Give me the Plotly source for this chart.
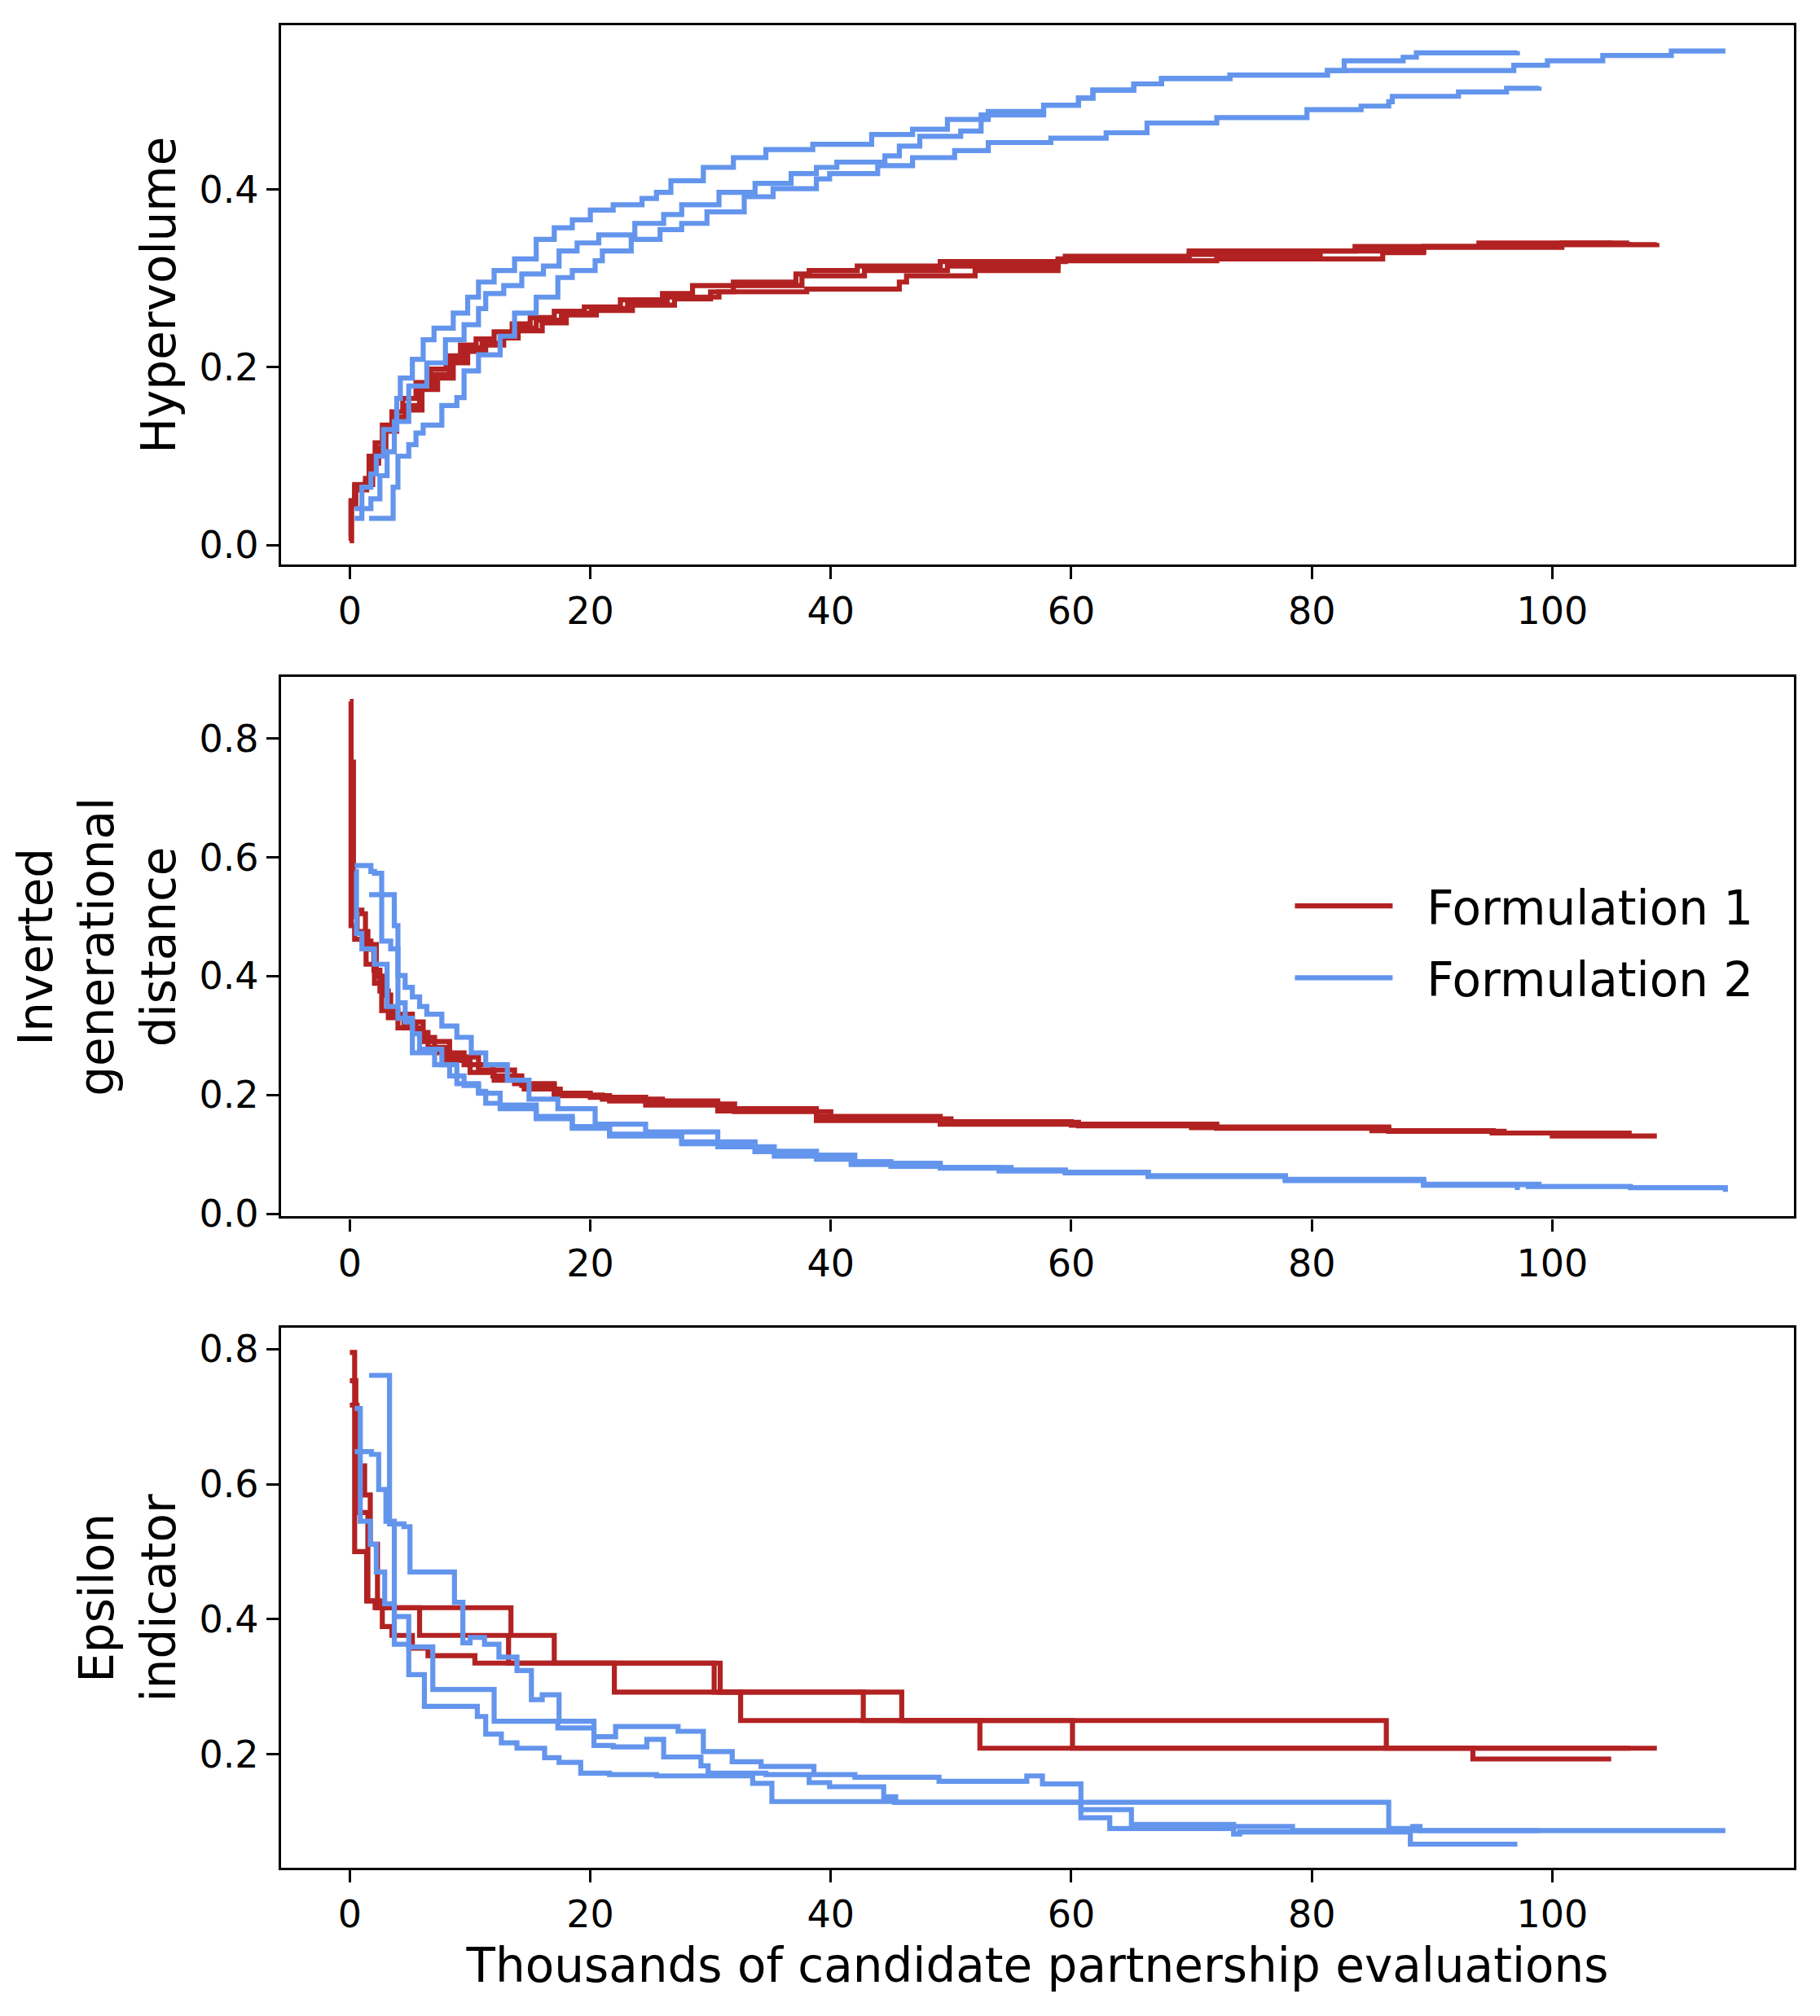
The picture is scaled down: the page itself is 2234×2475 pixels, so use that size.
import plotly.graph_objects as go

# Hypervolume, Formulation 1 (three runs), x in thousands of evaluations
hv_f1_x = [
    [0, 0.1, 0.4, 1.3, 1.75, 2.2, 2.8, 3.7, 4.6, 5.8, 7.05, 8.3, 9.5, 11.0, 12.5, 13.7, 15.5, 17.6,
     20.1, 23.1, 26.4, 30.7, 38.0, 45.7, 46.3, 52.0, 58.9, 72.1, 85.9, 89.3, 95.6, 108.7],
    [0, 0.1, 0.4, 1.3, 1.6, 2.1, 2.7, 3.5, 4.4, 5.5, 6.7, 8.0, 9.2, 10.5, 12.0, 13.5, 15.0, 17.0,
     19.5, 22.5, 26.0, 28.5, 31.9, 37.1, 38.2, 42.2, 49.1, 59.5, 69.8, 83.6, 93.9, 104.8],
    [0, 0.15, 0.5, 1.4, 1.9, 2.4, 3.0, 3.9, 4.8, 6.0, 7.3, 8.6, 9.8, 11.3, 12.8, 14.0, 16.0, 18.0,
     20.5, 23.5, 27.0, 30.0, 31.9, 37.6, 42.8, 49.7, 58.9, 69.8, 80.7, 89.3, 100.8, 106.4],
]
hv_f1_y = [
    [0.005, 0.048, 0.065, 0.070, 0.096, 0.109, 0.131, 0.144, 0.157, 0.179, 0.192, 0.209, 0.222, 0.227,
     0.235, 0.244, 0.253, 0.261, 0.266, 0.272, 0.279, 0.285, 0.288, 0.296, 0.303, 0.309, 0.320, 0.322,
     0.329, 0.336, 0.338, 0.340],
    [0.010, 0.050, 0.068, 0.075, 0.100, 0.115, 0.135, 0.150, 0.165, 0.183, 0.198, 0.213, 0.225, 0.232,
     0.240, 0.249, 0.256, 0.263, 0.268, 0.276, 0.283, 0.292, 0.296, 0.305, 0.309, 0.314, 0.319, 0.325,
     0.331, 0.336, 0.340, 0.343],
    [0.005, 0.045, 0.062, 0.068, 0.092, 0.105, 0.128, 0.140, 0.152, 0.175, 0.188, 0.205, 0.218, 0.225,
     0.233, 0.241, 0.250, 0.259, 0.264, 0.270, 0.277, 0.285, 0.292, 0.303, 0.309, 0.314, 0.322, 0.327,
     0.331, 0.335, 0.340, 0.341],
]

# Hypervolume, Formulation 2
hv_f2_x = [
    [0.4, 1.0, 1.75, 2.2, 2.8, 3.9, 4.2, 5.2, 6.1, 7.0, 8.6, 9.8, 10.7, 12.0, 13.7, 15.5, 17.0, 18.5,
     20.0, 21.9, 24.3, 25.5, 26.7, 29.4, 31.9, 34.6, 38.5, 43.4, 46.8, 49.7, 53.1, 57.7, 60.6, 61.8,
     65.2, 67.5, 73.2, 81.3, 82.7, 87.6, 88.7, 97.1],
    [0.4, 1.75, 2.5, 3.1, 3.7, 4.9, 6.4, 7.95, 9.5, 10.7, 11.3, 12.8, 14.3, 16.1, 17.4, 18.9, 20.7,
     23.7, 26.1, 27.6, 30.7, 33.7, 36.7, 38.8, 40.5, 44.5, 45.7, 47.4, 50.8, 52.5, 57.7, 60.6, 61.8,
     65.2, 67.5, 73.2, 81.3, 93.9, 96.8, 99.6, 104.2, 109.9, 114.4],
    [1.6, 3.4, 3.6, 4.0, 4.9, 5.5, 6.1, 7.65, 8.9, 9.5, 10.7, 12.5, 13.7, 15.5, 17.3, 18.5, 20.4, 21.0,
     23.4, 25.8, 27.6, 29.7, 32.8, 35.2, 38.8, 39.9, 43.9, 46.8, 50.3, 53.1, 58.3, 62.9, 66.3, 72.1,
     79.6, 84.1, 86.4, 86.7, 92.2, 96.2, 98.9],
]
hv_f2_y = [
    [0.030, 0.065, 0.080, 0.100, 0.130, 0.165, 0.188, 0.209, 0.231, 0.244, 0.261, 0.279, 0.296, 0.309,
     0.322, 0.344, 0.357, 0.366, 0.377, 0.383, 0.390, 0.397, 0.410, 0.425, 0.436, 0.445, 0.451, 0.462,
     0.468, 0.479, 0.488, 0.495, 0.503, 0.512, 0.519, 0.525, 0.529, 0.534, 0.545, 0.549, 0.554, 0.556],
    [0.041, 0.052, 0.078, 0.105, 0.139, 0.179, 0.205, 0.231, 0.248, 0.266, 0.283, 0.292, 0.305, 0.314,
     0.331, 0.340, 0.349, 0.362, 0.372, 0.383, 0.397, 0.407, 0.418, 0.425, 0.431, 0.438, 0.449, 0.460,
     0.466, 0.484, 0.495, 0.503, 0.512, 0.519, 0.525, 0.529, 0.534, 0.534, 0.540, 0.545, 0.551, 0.556,
     0.556],
    [0.030, 0.030, 0.065, 0.100, 0.113, 0.126, 0.135, 0.157, 0.166, 0.196, 0.214, 0.235, 0.261, 0.279,
     0.301, 0.309, 0.320, 0.331, 0.344, 0.355, 0.362, 0.375, 0.392, 0.401, 0.412, 0.418, 0.427, 0.436,
     0.444, 0.453, 0.458, 0.464, 0.475, 0.481, 0.490, 0.494, 0.499, 0.505, 0.510, 0.514, 0.516],
]

# Inverted generational distance, Formulation 1
igd_f1_x = [
    [0, 0.1, 0.4, 1.3, 1.35, 2.05, 2.65, 4.0, 5.8, 7.05, 9.5, 11.9, 14.3, 17.0, 20.0, 24.6, 30.6,
     38.8, 49.1, 60.6, 72.1, 86.4, 95.1, 100.0, 108.7],
    [0, 0.24, 1.0, 1.3, 1.75, 2.2, 2.8, 3.4, 5.2, 6.1, 8.3, 10.7, 13.7, 17.0, 21.6, 24.6, 30.6, 38.8,
     49.1, 60.6, 72.1, 86.4, 96.0, 104.9],
    [0, 0.3, 0.6, 1.5, 2.0, 2.5, 3.2, 4.5, 5.5, 6.5, 8.0, 10.0, 12.0, 14.5, 17.5, 21.0, 26.0, 32.0,
     40.0, 50.0, 60.0, 70.0, 85.0, 95.0, 106.4],
]
igd_f1_y = [
    [0.862, 0.485, 0.462, 0.456, 0.420, 0.388, 0.342, 0.313, 0.297, 0.271, 0.251, 0.232, 0.216, 0.203,
     0.196, 0.190, 0.177, 0.164, 0.154, 0.151, 0.146, 0.140, 0.136, 0.131, 0.131],
    [0.654, 0.511, 0.505, 0.459, 0.453, 0.400, 0.368, 0.336, 0.323, 0.290, 0.264, 0.242, 0.219, 0.199,
     0.190, 0.183, 0.173, 0.157, 0.151, 0.148, 0.144, 0.139, 0.136, 0.136],
    [0.760, 0.500, 0.475, 0.445, 0.410, 0.375, 0.330, 0.318, 0.305, 0.280, 0.258, 0.238, 0.225, 0.210,
     0.200, 0.193, 0.185, 0.172, 0.160, 0.155, 0.149, 0.145, 0.140, 0.136, 0.134],
]

# Inverted generational distance, Formulation 2
igd_f2_x = [
    [0.4, 1.75, 2.05, 2.65, 3.4, 4.0, 4.6, 5.2, 5.8, 6.4, 7.65, 8.9, 10.1, 11.3, 13.1, 14.9, 17.3, 20.4,
     24.6, 30.6, 35.3, 41.7, 49.1, 55.0, 59.5, 66.4, 77.8, 89.3, 97.1],
    [0.4, 0.55, 1.0, 1.9, 2.05, 3.1, 4.0, 5.2, 5.8, 7.65, 8.9, 10.7, 11.3, 12.5, 15.5, 18.5, 21.6,
     27.6, 33.7, 38.8, 41.7, 45.0, 49.1, 54.0, 59.5, 66.4, 77.8, 89.3, 98.0, 106.5, 114.4],
    [1.6, 3.4, 3.7, 4.0, 4.6, 5.2, 7.05, 8.3, 9.5, 10.7, 12.5, 15.5, 18.5, 21.6, 27.6, 33.7, 38.8,
     42.0, 45.0, 49.1, 54.0, 59.5, 66.4, 77.8, 89.3, 98.9],
]
igd_f2_y = [
    [0.586, 0.576, 0.573, 0.459, 0.446, 0.401, 0.381, 0.365, 0.349, 0.336, 0.316, 0.297, 0.271, 0.251,
     0.225, 0.193, 0.177, 0.151, 0.138, 0.113, 0.097, 0.085, 0.078, 0.073, 0.070, 0.064, 0.057, 0.048,
     0.040],
    [0.576, 0.472, 0.446, 0.446, 0.420, 0.349, 0.329, 0.303, 0.277, 0.251, 0.219, 0.206, 0.186, 0.177,
     0.164, 0.147, 0.134, 0.121, 0.105, 0.092, 0.083, 0.080, 0.077, 0.072, 0.069, 0.063, 0.056, 0.049,
     0.046, 0.044, 0.037],
    [0.537, 0.537, 0.485, 0.355, 0.323, 0.271, 0.251, 0.232, 0.216, 0.203, 0.183, 0.160, 0.144, 0.131,
     0.118, 0.105, 0.099, 0.088, 0.083, 0.078, 0.074, 0.070, 0.064, 0.058, 0.050, 0.047],
]

# Epsilon indicator, Formulation 1
eps_f1_x = [
    [0, 0.4, 1.4, 2.1, 13.4, 17.0, 30.8, 45.9, 86.2, 108.7],
    [0, 0.5, 1.23, 1.7, 2.3, 5.8, 13.2, 22.0, 32.5, 52.4, 93.4, 104.9],
    [0, 0.6, 1.5, 2.7, 3.5, 5.2, 6.5, 10.4, 30.3, 42.7, 60.1, 106.5],
]
eps_f1_y = [
    [0.795, 0.500, 0.427, 0.417, 0.376, 0.335, 0.292, 0.250, 0.209, 0.209],
    [0.753, 0.627, 0.584, 0.511, 0.417, 0.376, 0.335, 0.292, 0.250, 0.209, 0.193, 0.193],
    [0.717, 0.558, 0.427, 0.389, 0.376, 0.357, 0.346, 0.335, 0.292, 0.250, 0.209, 0.209],
]

# Epsilon indicator, Formulation 2
eps_f2_x = [
    [0.4, 1.8, 2.4, 3.0, 3.7, 4.9, 6.9, 12.0, 17.3, 20.3, 21.9, 24.7, 26.1, 29.2, 29.8, 34.6, 38.2,
     39.9, 44.4, 45.4, 60.8, 63.2, 73.5, 74.0, 88.2, 97.1],
    [0.4, 0.87, 1.7, 2.2, 2.9, 3.7, 4.9, 6.2, 10.6, 11.3, 12.6, 13.9, 16.2, 17.4, 19.2, 21.6, 25.5,
     33.5, 35.1, 45.3, 86.4, 88.4, 89.0, 114.4],
    [1.6, 3.3, 4.5, 5.0, 8.7, 9.4, 10.0, 11.2, 12.4, 13.9, 15.1, 16.0, 17.4, 20.3, 22.1, 27.3, 29.4,
     31.8, 34.2, 38.6, 42.0, 49.0, 56.3, 57.6, 60.8, 65.0, 73.5, 78.4, 98.9],
]
eps_f2_y = [
    [0.648, 0.644, 0.592, 0.545, 0.404, 0.359, 0.296, 0.249, 0.239, 0.213, 0.211, 0.222, 0.196, 0.183,
     0.172, 0.170, 0.158, 0.152, 0.137, 0.129, 0.106, 0.090, 0.082, 0.085, 0.067, 0.067],
    [0.712, 0.545, 0.511, 0.470, 0.423, 0.363, 0.318, 0.271, 0.256, 0.230, 0.217, 0.209, 0.195, 0.188,
     0.172, 0.170, 0.168, 0.157, 0.130, 0.129, 0.090, 0.093, 0.087, 0.087],
    [0.761, 0.541, 0.537, 0.470, 0.425, 0.365, 0.373, 0.363, 0.344, 0.324, 0.281, 0.288, 0.249, 0.226,
     0.241, 0.234, 0.204, 0.189, 0.182, 0.170, 0.166, 0.160, 0.168, 0.156, 0.118, 0.096, 0.093, 0.087,
     0.087],
]

series_names = ["Formulation 1", "Formulation 2"]
colors = ["#B22222", "#6495ED"]

panels = [
    ("y", "Hypervolume", [(hv_f1_x, hv_f1_y), (hv_f2_x, hv_f2_y)]),
    ("y2", "Inverted<br>generational<br>distance", [(igd_f1_x, igd_f1_y), (igd_f2_x, igd_f2_y)]),
    ("y3", "Epsilon<br>indicator", [(eps_f1_x, eps_f1_y), (eps_f2_x, eps_f2_y)]),
]
xaxes = ["x", "x2", "x3"]

fig = go.Figure()

for p, (yref, _, groups) in enumerate(panels):
    for k, (xs, ys) in enumerate(groups):
        for r in range(len(xs)):
            fig.add_trace(go.Scatter(
                x=xs[r], y=ys[r],
                mode="lines",
                line=dict(color=colors[k], width=6.2, shape="hv"),
                # two no-break spaces widen the gap between legend line and label
                name="\u00a0\u00a0" + series_names[k],
                legendgroup=series_names[k],
                showlegend=(p == 1 and r == 0),
                xaxis=xaxes[p], yaxis=yref,
            ))

font_family = "DejaVu Sans"
tick_font = dict(family=font_family, size=46, color="black")
title_font = dict(family=font_family, size=58, color="black")

axis_common = dict(
    showline=True, linecolor="black", linewidth=3.3, mirror=True,
    ticks="outside", ticklen=15, tickwidth=3.3, tickcolor="black",
    showgrid=False, zeroline=False, tickfont=tick_font,
)

domains = [[0.7073, 1.0], [0.3535, 0.6462], [0.0, 0.2929]]
yranges = [[-0.022, 0.585], [-0.0043, 0.903], [0.032, 0.831]]
ytickvals = [[0.0, 0.2, 0.4], [0.0, 0.2, 0.4, 0.6, 0.8], [0.2, 0.4, 0.6, 0.8]]

layout = dict(
    width=2234, height=2475,
    margin=dict(l=337, r=40, t=23, b=190),
    paper_bgcolor="white", plot_bgcolor="white",
    font=dict(family=font_family, color="black"),
    showlegend=True,
    legend=dict(
        x=0.976, y=0.5025, xanchor="right", yanchor="middle",
        font=dict(family=font_family, size=58, color="black"),
        bgcolor="rgba(0,0,0,0)", borderwidth=0,
        itemwidth=120,
    ),
)

for i in range(3):
    xname = "xaxis" if i == 0 else "xaxis%d" % (i + 1)
    yname = "yaxis" if i == 0 else "yaxis%d" % (i + 1)
    xa = dict(axis_common, domain=[0, 1], range=[-5.72, 120.1],
              tickvals=[0, 20, 40, 60, 80, 100], anchor=panels[i][0])
    if i == 2:
        xa["title"] = dict(text="Thousands of candidate partnership evaluations",
                           font=title_font, standoff=17)
    ya = dict(axis_common, domain=domains[i], range=yranges[i],
              tickvals=ytickvals[i], tickformat=".1f", anchor=xaxes[i],
              title=dict(text=panels[i][1], font=title_font, standoff=11))
    layout[xname] = xa
    layout[yname] = ya

fig.update_layout(**layout)

fig.write_html("out.html")
